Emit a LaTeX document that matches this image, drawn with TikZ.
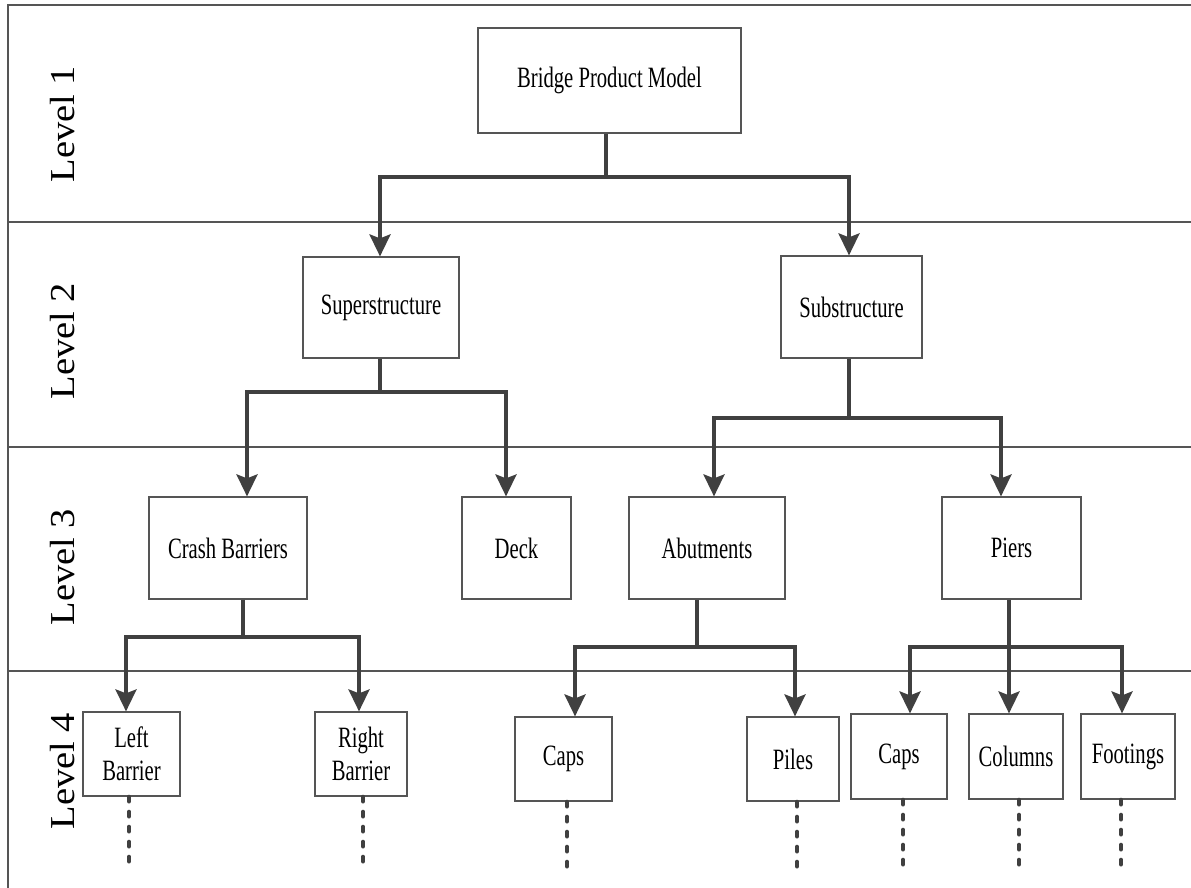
\documentclass[tikz,border=0pt]{standalone}
\usepackage{fontspec}
\setmainfont{Liberation Serif}
\newfontfamily\boxfont[FakeStretch=0.7]{Liberation Serif}
\newfontfamily\levelfont[FakeStretch=1.1]{Liberation Serif}
\usetikzlibrary{arrows.meta}
\definecolor{ink}{HTML}{404040}
\definecolor{rule}{HTML}{555555}

\begin{document}
\begin{tikzpicture}[x=1pt,y=-1pt,
  box/.style={draw=rule,line width=1.2pt,inner sep=0pt,align=center,
    font=\boxfont\fontsize{29.5}{33}\selectfont},
  frame/.style={draw=rule,line width=1.4pt},
  levellabel/.style={rotate=90,inner sep=0pt,font=\levelfont\fontsize{35}{40}\selectfont},
  link/.style={draw=ink,line width=3.5pt},
  arrowlink/.style={link,-{Stealth[length=22pt,width=21pt,inset=4pt]}},
  tail/.style={draw=ink,line width=3.8pt,line cap=round,dash pattern=on 5pt off 10pt}]
\useasboundingbox (0,0) rectangle (1191,888);

% frame and level separators
\draw[frame] (8,888) -- (8,5) -- (1191,5);
\draw[frame] (8,222) -- (1191,222);
\draw[frame] (8,447) -- (1191,447);
\draw[frame] (8,671) -- (1191,671);

% level labels
\node[levellabel] (lv1) at (63,124) {Level 1};
\node[levellabel] (lv2) at (63,341) {Level 2};
\node[levellabel] (lv3) at (63,567) {Level 3};
\node[levellabel] (lv4) at (63,771) {Level 4};

% level 1
\node[box,minimum width=263,minimum height=105] (root) at (609.5,80.5) {Bridge Product Model};
% level 2
\node[box,minimum width=156,minimum height=101] (sup) at (381,307.5) {Superstructure};
\node[box,minimum width=141,minimum height=102] (sub) at (851.5,307) {Substructure};
% level 3
\node[box,minimum width=158,minimum height=102] (crash) at (228,548) {Crash Barriers};
\node[box,minimum width=109,minimum height=102] (deck) at (516.5,548) {Deck};
\node[box,minimum width=156,minimum height=102] (abut) at (707,548) {Abutments};
\node[box,minimum width=139,minimum height=102] (piers) at (1011.5,548) {Piers};
% level 4
\node[box,minimum width=97,minimum height=84] (lb) at (131.5,754) {Left\\Barrier};
\node[box,minimum width=92,minimum height=84] (rb) at (361,754) {Right\\Barrier};
\node[box,minimum width=97,minimum height=84] (capsa) at (563.5,759) {Caps};
\node[box,minimum width=92,minimum height=84] (piles) at (793,759) {Piles};
\node[box,minimum width=96,minimum height=85] (capsp) at (899,756.5) {Caps};
\node[box,minimum width=94,minimum height=85] (cols) at (1016,756.5) {Columns};
\node[box,minimum width=94,minimum height=85] (foot) at (1128,756.5) {Footings};

% junction points of the tree
\coordinate (j1) at (606,177);  \coordinate (a1l) at (380,177);  \coordinate (a1r) at (849,177);
\coordinate (j2) at (380,392);  \coordinate (a2l) at (247,392);  \coordinate (a2r) at (506,392);
\coordinate (j3) at (849,418);  \coordinate (a3l) at (714,418);  \coordinate (a3r) at (1001,418);
\coordinate (j4) at (243,637);  \coordinate (a4l) at (126,637);  \coordinate (a4r) at (359,637);
\coordinate (j5) at (697,647);  \coordinate (a5l) at (575,647);  \coordinate (a5r) at (795,647);
\coordinate (j6) at (1009,647); \coordinate (a6l) at (910,647);  \coordinate (a6r) at (1122,647);

% root -> level 2
\draw[link] (root.south -| j1) -- (j1);
\draw[arrowlink] (j1) -- (a1l) -- (a1l |- sup.north);
\draw[arrowlink] (j1) -- (a1r) -- (a1r |- sub.north);
% superstructure -> level 3
\draw[link] (sup.south -| j2) -- (j2);
\draw[arrowlink] (j2) -- (a2l) -- (a2l |- crash.north);
\draw[arrowlink] (j2) -- (a2r) -- (a2r |- deck.north);
% substructure -> level 3
\draw[link] (sub.south -| j3) -- (j3);
\draw[arrowlink] (j3) -- (a3l) -- (a3l |- abut.north);
\draw[arrowlink] (j3) -- (a3r) -- (a3r |- piers.north);
% crash barriers -> level 4
\draw[link] (crash.south -| j4) -- (j4);
\draw[arrowlink] (j4) -- (a4l) -- (a4l |- lb.north);
\draw[arrowlink] (j4) -- (a4r) -- (a4r |- rb.north);
% abutments -> level 4
\draw[link] (abut.south -| j5) -- (j5);
\draw[arrowlink] (j5) -- (a5l) -- (a5l |- capsa.north);
\draw[arrowlink] (j5) -- (a5r) -- (a5r |- piles.north);
% piers -> level 4
\draw[arrowlink] (piers.south -| j6) -- (j6 |- cols.north);
\draw[arrowlink] (j6) -- (a6l) -- (a6l |- capsp.north);
\draw[arrowlink] (j6) -- (a6r) -- (a6r |- foot.north);

% continuation marks below the leaves
\draw[tail] ([xshift=-2.5]lb.south) -- ++(0,69);
\draw[tail] ([xshift=2]rb.south) -- ++(0,67);
\draw[tail] ([xshift=3.5]capsa.south) -- ++(0,66);
\draw[tail] ([xshift=4]piles.south) -- ++(0,66);
\draw[tail] ([xshift=4]capsp.south) -- ++(0,68);
\draw[tail] ([xshift=3]cols.south) -- ++(0,68);
\draw[tail] ([xshift=-7]foot.south) -- ++(0,68);
\end{tikzpicture}
\end{document}
